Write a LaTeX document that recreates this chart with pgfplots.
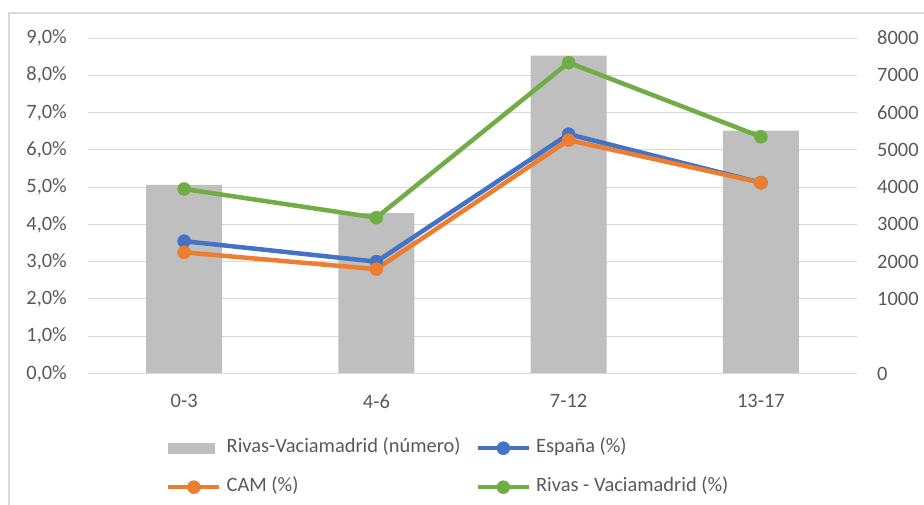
\documentclass[border=0pt]{standalone}
\usepackage{fontspec}
\setmainfont{Carlito}
\usepackage{pgfplots}
\pgfplotsset{compat=1.18}
\definecolor{txt}{HTML}{595959}
\definecolor{gridc}{HTML}{D9D9D9}
\definecolor{barc}{HTML}{BFBFBF}
\definecolor{cblue}{HTML}{4472C4}
\definecolor{corange}{HTML}{ED7D31}
\definecolor{cgreen}{HTML}{70AD47}
\newcommand{\cf}{\fontsize{20.5}{24}\selectfont}
\begin{document}
\begin{tikzpicture}
\useasboundingbox (-88bp,-131.5bp) rectangle (836bp,373.5bp);
\draw[gridc, line width=1.2bp] (-79bp,-140bp) -- (-79bp,360.5bp) -- (850bp,360.5bp);
\pgfplotsset{base/.style={scale only axis, width=769bp, height=335.5bp, xmin=-0.5, xmax=3.5,
  at={(0,0)}, anchor=south west, major tick length=0pt, tick style={draw=none},
  /pgf/number format/assume math mode=true, ticklabel style={font=\cf, text=txt}}}
\begin{axis}[base, ymin=0, ymax=9000, axis y line*=right, hide x axis,
  y axis line style={draw=none},
  ytick={0,1000,...,9000}, yticklabels={0,{},1000,2000,3000,4000,5000,6000,7000,8000},
  ymajorgrids, grid style={gridc, line width=1bp},
  yticklabel style={anchor=west, inner sep=0pt, xshift=20bp}]
\addplot[ybar, bar width=76bp, fill=barc, draw=none] coordinates {(0,5060) (1,4305) (2,8525) (3,6513)};
\end{axis}
\begin{axis}[base, ymin=0, ymax=9, axis y line*=left, axis x line*=bottom,
  y axis line style={draw=none}, x axis line style={gridc, line width=1bp, -},
  xtick={0,1,2,3}, xticklabels={0-3,4-6,7-12,13-17},
  xticklabel style={anchor=north, inner sep=0pt, yshift=-21bp},
  ytick={0,...,9},
  yticklabel={\pgfmathprintnumber[fixed,fixed zerofill,precision=1,use comma]{\tick}\%},
  yticklabel style={anchor=east, inner sep=0pt, xshift=-21bp},
  legend columns=2, legend cell align=left,
  legend image code/.code={\draw[#1,mark repeat=2,mark phase=2] plot coordinates {(0bp,0bp) (25.5bp,0bp) (51bp,0bp)};},
  legend style={draw=none, fill=none, at={(axis description cs:0.1014,-0.1937)}, anchor=north west,
    font=\cf, text=txt, inner sep=0pt, row sep=20bp,
    /tikz/every odd column/.append style={column sep=5bp},
    /tikz/every even column/.append style={column sep=15bp},
    nodes={inner sep=0pt, text height=14bp, text depth=5bp}}]
\addlegendimage{legend image code/.code={\fill[barc] (0bp,-5bp) rectangle (46bp,5bp);}}
\addlegendentry{Rivas-Vaciamadrid (número)}
\addplot[cblue, line width=4.5bp, mark=*, mark size=6.5bp, mark options={solid, line width=0.5bp}]
  coordinates {(0,3.55) (1,3.00) (2,6.42) (3,5.12)};
\addlegendentry{España (\%)}
\addplot[corange, line width=4.5bp, mark=*, mark size=6.5bp, mark options={solid, line width=0.5bp}]
  coordinates {(0,3.25) (1,2.80) (2,6.26) (3,5.12)};
\addlegendentry{CAM (\%)}
\addplot[cgreen, line width=4.5bp, mark=*, mark size=6.5bp, mark options={solid, line width=0.5bp}]
  coordinates {(0,4.95) (1,4.18) (2,8.34) (3,6.35)};
\addlegendentry{Rivas - Vaciamadrid (\%)}
\end{axis}
\end{tikzpicture}
\end{document}
